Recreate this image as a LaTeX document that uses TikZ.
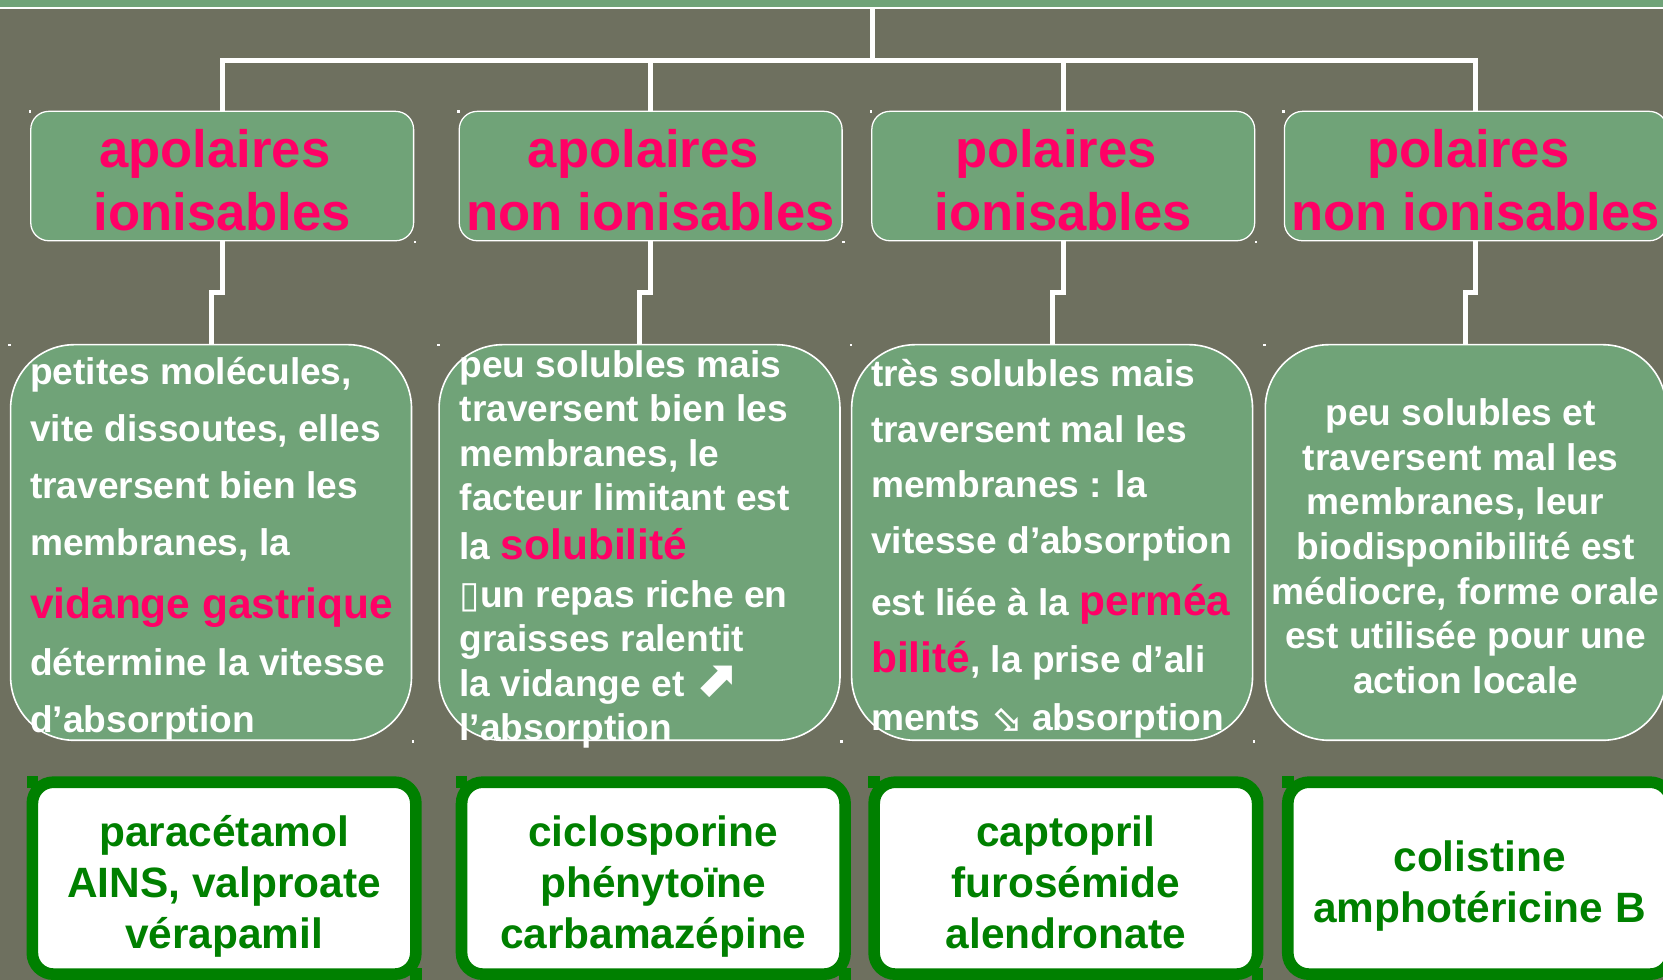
\documentclass[tikz,border=0pt]{standalone}
\usepackage{fontspec}
\setmainfont{Liberation Sans}
\newfontfamily\dejavu{DejaVu Sans}
\usepackage{xcolor}
\definecolor{slate}{HTML}{6E705F}
\definecolor{sage}{HTML}{70A378}
\definecolor{hot}{HTML}{FF0066}
\definecolor{leaf}{HTML}{008000}

% pink key words inside the white text
\newcommand\pinkword[1]{{\color{hot}\fontsize{20pt}{20pt}\selectfont #1}}
% trailing blank and invisible struts
\newcommand\trail[1]{\rule{#1}{0pt}}
\newcommand\uppad[1]{\rule{0pt}{#1}}
\newcommand\lowpad[1]{\rule[-#1]{0pt}{#1}}

\begin{document}
\begin{tikzpicture}[x=0.5pt,y=-0.5pt,
      head/.style={draw=white,line width=0.6pt,fill=sage,rounded corners=8.5pt,
                   text=hot,align=center,inner sep=1pt,outer sep=0pt,
                   font=\bfseries\fontsize{24.8pt}{29.5pt}\selectfont,
                   minimum width=180.5pt,minimum height=61pt},
      bodybox/.style={draw=white,line width=0.75pt,fill=sage,rounded corners=30pt,
                      outer sep=0pt,minimum width=189pt,minimum height=186.5pt},
      bodytxt/.style={text=white,inner sep=0pt,align=left,anchor=west,
                      font=\bfseries\fontsize{17.5pt}{#1}\selectfont},
      drug/.style={draw=leaf,line width=5.5pt,fill=white,rounded corners=10pt,
                   text=leaf,align=center,inner sep=1pt,outer sep=0pt,
                   font=\bfseries\fontsize{20pt}{24pt}\selectfont,
                   minimum width=180.8pt,minimum height=90.5pt},
      link/.style={draw=white,line width=2.4pt}]

    \useasboundingbox (0,0) rectangle (1568,924);
    \fill[slate] (0,0) rectangle (1568,924);
    \fill[sage] (0,0) rectangle (1568,6.6);
    \draw[white,line width=0.8pt] (0,7.6) -- (1568,7.6);

    % classes
    \node[head] (h1) at (209.5,166) {\uppad{22.1pt}apolaires\trail{6.9pt}\\ionisables};
    \node[head] (h2) at (613.5,166) {\uppad{22.1pt}apolaires\trail{6.9pt}\\non ionisables};
    \node[head] (h3) at (1002.5,166) {\uppad{22.1pt}polaires\trail{6.9pt}\\ionisables};
    \node[head] (h4) at (1391.5,166) {\uppad{22.1pt}polaires\trail{6.9pt}\\non ionisables};

    % properties
    \node[bodybox] (b1) at (199,511.5) {};
    \node[bodybox] (b2) at (603,511.5) {};
    \node[bodybox] (b3) at (992,511.5) {};
    \node[bodybox] (b4) at (1382,511.5) {};

    \node[bodytxt=26.9pt] (t1) at ([xshift=9pt,yshift=-3pt]b1.west)
      {petites molécules,\\
       vite dissoutes, elles\\
       traversent bien les\\
       membranes, la\\[2.8pt]
       \pinkword{vidange gastrique}\\
       détermine la vitesse\\
       d’absorption};
    \node[bodytxt=21pt] (t2) at ([xshift=9.5pt,yshift=-3.25pt]b2.west)
      {peu solubles mais\\
       traversent bien les\\
       membranes, le\\
       facteur limitant est\\[2pt]
       la \pinkword{solubilité}\\[1.5pt]
       {\dejavu ▯}un repas riche en\\
       graisses ralentit\\
       la vidange et {\dejavu\fontsize{24pt}{21pt}\selectfont ⬈}\\
       l’absorption};
    \node[bodytxt=26.2pt] (t3) at ([xshift=9pt,yshift=-3pt]b3.west)
      {très solubles mais\\
       traversent mal les\\
       membranes : la\\
       vitesse d’absorption\\[3pt]
       est liée à la \pinkword{perméa}\\[1pt]
       \pinkword{bilité}, la prise d’ali\\[1pt]
       ments {\dejavu ⬂} absorption};
    \node[bodytxt=21pt,align=center,anchor=center] (t4) at ([yshift=-1.75pt]b4.center)
      {peu solubles et\trail{4.9pt}\\
       traversent mal les\trail{4.9pt}\\
       membranes, leur\trail{9.7pt}\\
       biodisponibilité est\\
       médiocre, forme orale\\
       est utilisée pour une\\
       action locale};

    % examples
    \node[drug] (d1) at (211.3,828)
      {\uppad{23pt}paracétamol\\AINS, valproate\\vérapamil\lowpad{5pt}};
    \node[drug] (d2) at (616,828)
      {\uppad{23pt}ciclosporine\\phénytoïne\\carbamazépine\lowpad{5pt}};
    \node[drug] (d3) at (1005,828)
      {\uppad{23pt}captopril\\furosémide\\alendronate\lowpad{5pt}};
    \node[drug] (d4) at (1395,828)
      {\uppad{23pt}colistine\\amphotéricine B\lowpad{5pt}};

    % tree
    \coordinate (top) at (823,8);
    \coordinate (bar) at (823,57);
    \draw[link] (top) -- (bar);
    \draw[link] (h1.north) |- (bar) -| (h4.north);
    \draw[link] (h2.north) -- (h2.north |- bar);
    \draw[link] (h3.north) -- (h3.north |- bar);
    \foreach \i in {1,...,4}
      \draw[link] (h\i.south) -- ++(0,49) -| (b\i.north);

    % corner marks
    \foreach \n in {h1,h2,h3,h4,b1,b2,b3,b4} {
      \fill[white] ([shift={(-2,-1)}]\n.north west) rectangle ++(2.5,2.5);
      \fill[white] (\n.south east) rectangle ++(2.5,2.5);
    }
    \foreach \i in {1,...,4} {
      \fill[leaf] ([shift={(-5.5,-5.5)}]d\i.north west) rectangle ++(11,11);
      \fill[leaf] ([shift={(-5.5,-5.5)}]d\i.south east) rectangle ++(11,11);
    }
\end{tikzpicture}
\end{document}
